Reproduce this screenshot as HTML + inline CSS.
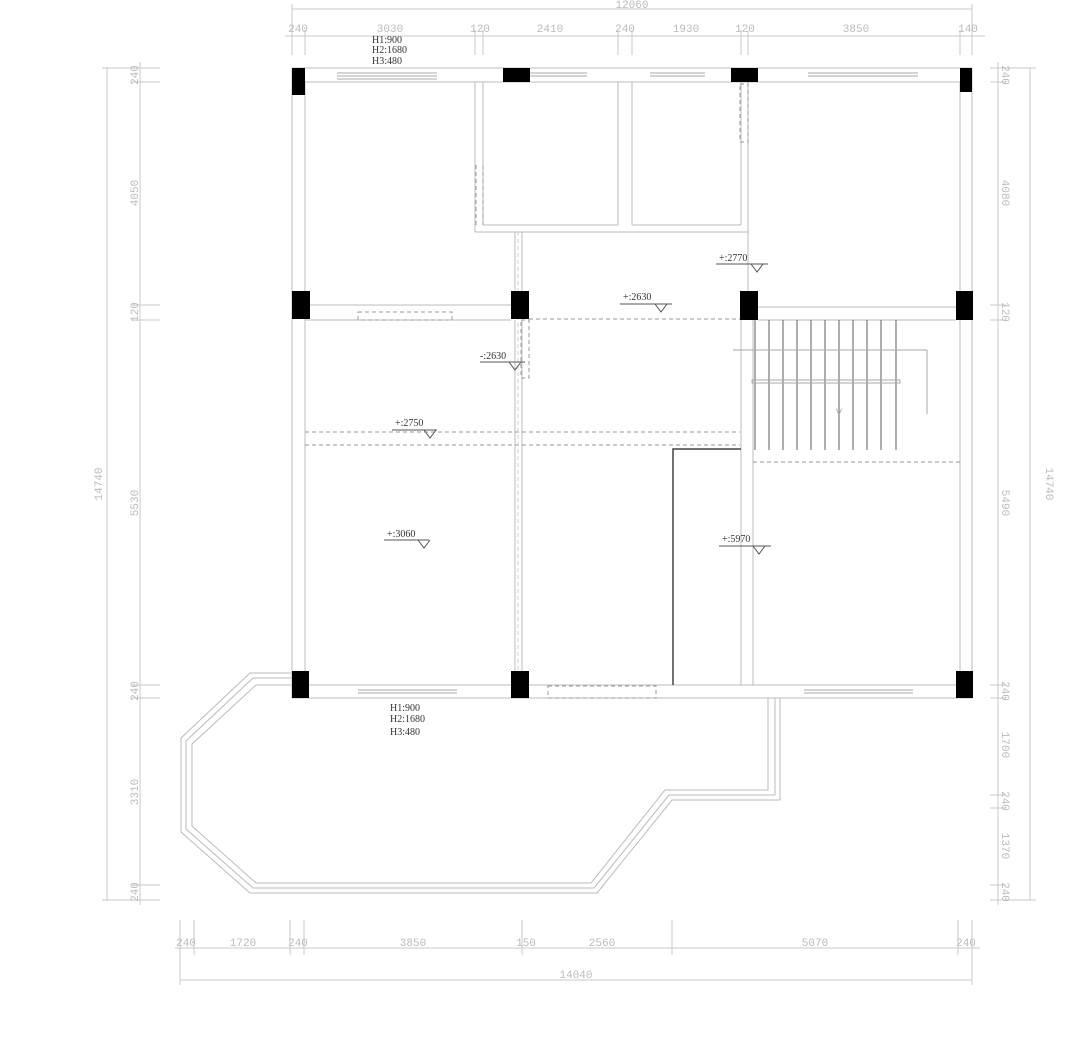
<!DOCTYPE html>
<html><head><meta charset="utf-8"><style>
html,body{margin:0;padding:0;background:#fff}
svg{display:block}
.d{font-family:"Liberation Mono",monospace;font-size:11px;fill:#bbb}
.l{font-family:"Liberation Serif",serif;font-size:10px;fill:#333}
</style></head><body>
<svg width="1080" height="1041" viewBox="0 0 1080 1041" xmlns="http://www.w3.org/2000/svg">
<g stroke="#c8c8c8" stroke-width="1" fill="none">
<line x1="292" y1="9" x2="972" y2="9"/><line x1="292" y1="4" x2="292" y2="40"/><line x1="972" y1="4" x2="972" y2="40"/>
<line x1="285" y1="36" x2="985" y2="36"/>
<g><line x1="292" y1="30" x2="292" y2="55"/><line x1="305" y1="30" x2="305" y2="55"/><line x1="475" y1="30" x2="475" y2="55"/><line x1="483" y1="30" x2="483" y2="55"/><line x1="618" y1="30" x2="618" y2="55"/><line x1="632" y1="30" x2="632" y2="55"/><line x1="741" y1="30" x2="741" y2="55"/><line x1="748" y1="30" x2="748" y2="55"/><line x1="960" y1="30" x2="960" y2="55"/><line x1="972" y1="30" x2="972" y2="55"/></g>
<line x1="107" y1="68" x2="107" y2="900"/><line x1="102" y1="68" x2="160" y2="68"/><line x1="102" y1="900" x2="160" y2="900"/>
<line x1="140" y1="62" x2="140" y2="905"/>
<g><line x1="132" y1="82" x2="160" y2="82"/><line x1="132" y1="305" x2="160" y2="305"/><line x1="132" y1="320" x2="160" y2="320"/><line x1="132" y1="685" x2="160" y2="685"/><line x1="132" y1="698" x2="160" y2="698"/><line x1="132" y1="885" x2="160" y2="885"/></g>
<line x1="1030" y1="68" x2="1030" y2="900"/><line x1="990" y1="68" x2="1036" y2="68"/><line x1="990" y1="900" x2="1036" y2="900"/>
<line x1="998" y1="62" x2="998" y2="905"/>
<g><line x1="990" y1="82" x2="1006" y2="82"/><line x1="990" y1="305" x2="1006" y2="305"/><line x1="990" y1="320" x2="1006" y2="320"/><line x1="990" y1="685" x2="1006" y2="685"/><line x1="990" y1="698" x2="1006" y2="698"/><line x1="990" y1="795" x2="1006" y2="795"/><line x1="990" y1="808" x2="1006" y2="808"/><line x1="990" y1="885" x2="1006" y2="885"/></g>
<line x1="175" y1="948" x2="980" y2="948"/><line x1="180" y1="980" x2="972" y2="980"/>
<line x1="180" y1="920" x2="180" y2="985"/><line x1="972" y1="920" x2="972" y2="985"/>
<g><line x1="194" y1="920" x2="194" y2="955"/><line x1="290" y1="920" x2="290" y2="955"/><line x1="304" y1="920" x2="304" y2="955"/><line x1="522" y1="920" x2="522" y2="955"/><line x1="672" y1="920" x2="672" y2="955"/><line x1="958" y1="920" x2="958" y2="955"/></g>
</g>
<g class="d" text-anchor="middle">
<text x="632" y="8">12060</text>
<text x="298" y="32">240</text><text x="390" y="32">3030</text><text x="480" y="32">120</text><text x="550" y="32">2410</text><text x="625" y="32">240</text><text x="686" y="32">1930</text><text x="745" y="32">120</text><text x="856" y="32">3850</text><text x="968" y="32">140</text>
<text x="186" y="946">240</text><text x="243" y="946">1720</text><text x="298" y="946">240</text><text x="413" y="946">3850</text><text x="526" y="946">150</text><text x="602" y="946">2560</text><text x="815" y="946">5070</text><text x="966" y="946">240</text>
<text x="576" y="978">14040</text>
</g>
<g class="d" text-anchor="middle">
<text transform="translate(102,484) rotate(-90)">14740</text>
<text transform="translate(138,75) rotate(-90)">240</text><text transform="translate(138,193) rotate(-90)">4050</text><text transform="translate(138,312) rotate(-90)">120</text><text transform="translate(138,503) rotate(-90)">5530</text><text transform="translate(138,691) rotate(-90)">240</text><text transform="translate(138,792) rotate(-90)">3310</text><text transform="translate(138,892) rotate(-90)">240</text>
<text transform="translate(1046,484) rotate(90)">14740</text>
<text transform="translate(1002,75) rotate(90)">240</text><text transform="translate(1002,193) rotate(90)">4080</text><text transform="translate(1002,312) rotate(90)">120</text><text transform="translate(1002,503) rotate(90)">5490</text><text transform="translate(1002,691) rotate(90)">240</text><text transform="translate(1002,745) rotate(90)">1700</text><text transform="translate(1002,801) rotate(90)">240</text><text transform="translate(1002,846) rotate(90)">1370</text><text transform="translate(1002,892) rotate(90)">240</text>
</g>
<g stroke="#bbb" stroke-width="1" fill="none">
<rect x="292" y="68" width="680" height="14"/>
<line x1="305" y1="82" x2="305" y2="685"/><line x1="292" y1="82" x2="292" y2="685"/>
<line x1="960" y1="82" x2="960" y2="685"/><line x1="972" y1="82" x2="972" y2="685"/>
<line x1="305" y1="305" x2="511" y2="305"/><line x1="305" y1="320" x2="511" y2="320"/>
<line x1="758" y1="307" x2="956" y2="307"/><line x1="758" y1="320" x2="956" y2="320"/>
<rect x="292" y="685" width="680" height="13"/>
<line x1="475" y1="82" x2="475" y2="232"/><line x1="483" y1="82" x2="483" y2="225"/>
<line x1="475" y1="232" x2="748" y2="232"/><line x1="483" y1="225" x2="618" y2="225"/><line x1="632" y1="225" x2="741" y2="225"/>
<line x1="618" y1="82" x2="618" y2="225"/><line x1="632" y1="82" x2="632" y2="225"/>
<line x1="741" y1="82" x2="741" y2="225"/><line x1="748" y1="82" x2="748" y2="291"/>
<line x1="515" y1="232" x2="515" y2="291"/><line x1="522" y1="232" x2="522" y2="291"/>
<line x1="515" y1="320" x2="515" y2="671"/><line x1="522" y1="320" x2="522" y2="671"/>
<line x1="741" y1="320" x2="741" y2="685"/><line x1="753" y1="320" x2="753" y2="685"/>
<g stroke="#aaa"><line x1="337" y1="73" x2="437" y2="73"/><line x1="337" y1="76" x2="437" y2="76"/><line x1="337" y1="79" x2="437" y2="79"/>
<line x1="530" y1="73" x2="587" y2="73"/><line x1="530" y1="76" x2="587" y2="76"/>
<line x1="650" y1="73" x2="705" y2="73"/><line x1="650" y1="76" x2="705" y2="76"/>
<line x1="808" y1="73" x2="918" y2="73"/><line x1="808" y1="76" x2="918" y2="76"/>
<line x1="358" y1="690" x2="457" y2="690"/><line x1="358" y1="693" x2="457" y2="693"/>
<line x1="804" y1="690" x2="913" y2="690"/><line x1="804" y1="693" x2="913" y2="693"/></g>
<polyline points="292,673 250,673 181,738 181,832 250,893 597,893 672,800 780,800 780,698"/>
<polyline points="292,678 253,678 186,741 186,829 253,888 594,888 669,795 775,795 775,698"/>
<polyline points="292,685 256,685 192,744 192,826 256,883 591,883 665,790 768,790 768,698"/>
</g>
<g stroke="#999" stroke-width="1" fill="none" stroke-dasharray="4,3">
<rect x="358" y="312" width="94" height="8"/>
<rect x="521" y="320" width="8" height="58"/>
<rect x="740" y="84" width="8" height="58"/>
<line x1="476" y1="165" x2="476" y2="225"/><line x1="483" y1="165" x2="483" y2="225"/>
<rect x="548" y="686" width="108" height="12"/>
<line x1="529" y1="319" x2="740" y2="319"/>
<line x1="305" y1="432" x2="740" y2="432"/><line x1="305" y1="445" x2="740" y2="445"/>
<line x1="753" y1="462" x2="960" y2="462"/>
<line x1="518" y1="232" x2="518" y2="680" stroke="#ccc"/>
</g>
<g stroke="#777" stroke-width="1.2">
<line x1="755" y1="320" x2="755" y2="450"/><line x1="769" y1="320" x2="769" y2="450"/><line x1="783" y1="320" x2="783" y2="450"/><line x1="797" y1="320" x2="797" y2="450"/><line x1="811" y1="320" x2="811" y2="450"/><line x1="825" y1="320" x2="825" y2="450"/><line x1="839" y1="320" x2="839" y2="450"/><line x1="853" y1="320" x2="853" y2="450"/><line x1="867" y1="320" x2="867" y2="450"/><line x1="881" y1="320" x2="881" y2="450"/><line x1="896" y1="320" x2="896" y2="450"/>
</g>
<g stroke="#aaa" fill="none"><line x1="733" y1="350" x2="927" y2="350"/><line x1="927" y1="350" x2="927" y2="414"/><rect x="752" y="380" width="148" height="3"/></g>
<polyline points="673,685 673,449 741,449" stroke="#444" stroke-width="1.5" fill="none"/>
<g fill="#000">
<rect x="292" y="68" width="13" height="27"/><rect x="503" y="68" width="27" height="14"/><rect x="731" y="68" width="27" height="14"/><rect x="960" y="68" width="12" height="24"/>
<rect x="292" y="291" width="18" height="28"/><rect x="511" y="291" width="18" height="28"/><rect x="740" y="291" width="18" height="29"/><rect x="956" y="291" width="17" height="29"/>
<rect x="292" y="671" width="17" height="27"/><rect x="511" y="671" width="18" height="27"/><rect x="956" y="671" width="17" height="27"/>
</g>
<g class="l">
<text x="372" y="43">H1:900</text><text x="372" y="53">H2:1680</text><text x="372" y="64">H3:480</text>
<text x="390" y="711">H1:900</text><text x="390" y="722">H2:1680</text><text x="390" y="735">H3:480</text>
<text x="719" y="261">+:2770</text><text x="623" y="300">+:2630</text><text x="480" y="359">-:2630</text><text x="395" y="426">+:2750</text><text x="387" y="537">+:3060</text><text x="722" y="542">+:5970</text>
</g>
<g stroke="#555" fill="none">
<path d="M716 264h52M751 264l6 8 6-8"/><path d="M620 304h52M655 304l6 8 6-8"/><path d="M480 362h45M509 362l6 8 6-8"/>
<path d="M392 430h45M424 430l6 8 6-8"/><path d="M384 540h45M418 540l6 8 6-8"/><path d="M719 546h52M753 546l6 8 6-8"/>
</g>
<text x="838" y="420" font-family="Liberation Sans" font-size="12" fill="#aaa" transform="rotate(-90 838 415)">&lt;</text>
</svg>
</body></html>
